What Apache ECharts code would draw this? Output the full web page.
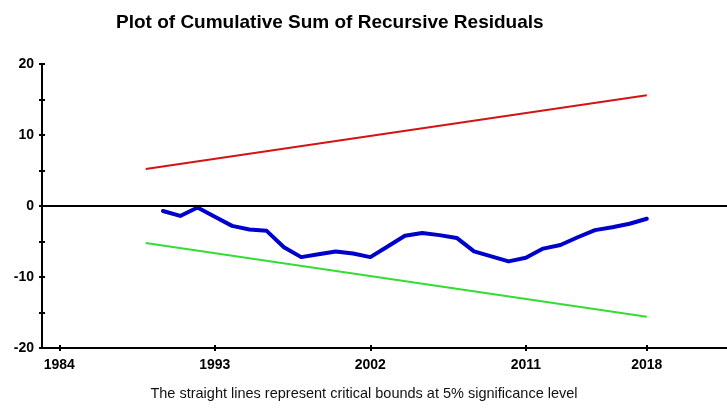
<!DOCTYPE html>
<html>
<head>
<meta charset="utf-8">
<script src="https://cdn.jsdelivr.net/npm/echarts@6/dist/echarts.min.js"></script>
<style>
  html, body { margin: 0; padding: 0; background: #ffffff; }
  #chart { width: 727px; height: 409px; }
</style>
</head>
<body>
<div id="chart"></div>
<script>
// CUSUM of recursive residuals, with 5% critical bounds
const cusumYears = [1990, 1991, 1992, 1993, 1994, 1995, 1996, 1997, 1998, 1999,
                    2000, 2001, 2002, 2003, 2004, 2005, 2006, 2007, 2008, 2009,
                    2010, 2011, 2012, 2013, 2014, 2015, 2016, 2017, 2018];
const cusumValues = [-0.7, -1.4, -0.2, -1.5, -2.8, -3.3, -3.5, -5.8, -7.2, -6.8,
                     -6.4, -6.7, -7.2, -5.7, -4.2, -3.8, -4.1, -4.5, -6.4, -7.1,
                     -7.8, -7.3, -6.0, -5.5, -4.4, -3.4, -3.0, -2.5, -1.8];

// Straight critical bounds: endpoints only
const boundYears = [1989, 2018];
const upperBound = [5.2, 15.6];
const lowerBound = [-5.2, -15.6];

const xTickLabels = [1984, 1993, 2002, 2011, 2018];

const pairs = (xs, ys) => xs.map((x, i) => [x, ys[i]]);

const FONT = 'Liberation Sans, Arial, Helvetica, sans-serif';
const chart = echarts.init(document.getElementById('chart'), null, { renderer: 'canvas' });

const baseX = {
  type: 'value', min: 1983, max: 2022.64, gridIndex: 0,
  splitLine: { show: false }
};
const baseY = {
  type: 'value', min: -20, max: 20, interval: 5, gridIndex: 0,
  splitLine: { show: false }
};

chart.setOption({
  animation: false,
  backgroundColor: '#ffffff',
  title: {
    text: 'Plot of Cumulative Sum of Recursive Residuals',
    left: 111, top: 8,
    textStyle: { fontFamily: FONT, fontSize: 19, fontWeight: 'bold', color: '#000' }
  },
  grid: { left: 42, top: 64, width: 685, height: 284 },
  xAxis: [
    Object.assign({}, baseX, {
      position: 'bottom',
      axisLine: { show: true, onZero: false, lineStyle: { color: '#000', width: 2 } },
      axisTick: { show: true, length: 3, customValues: xTickLabels, lineStyle: { color: '#000', width: 2 } },
      axisLabel: {
        customValues: xTickLabels, margin: 10,
        fontFamily: FONT, fontSize: 14, fontWeight: 'bold', color: '#000',
        formatter: v => String(v)
      }
    }),
    Object.assign({}, baseX, {
      position: 'bottom',
      axisLine: { show: false, onZero: false },
      axisTick: { show: true, inside: true, length: 3, customValues: xTickLabels, lineStyle: { color: '#000', width: 2 } },
      axisLabel: { show: false }
    })
  ],
  yAxis: [
    Object.assign({}, baseY, {
      position: 'left',
      axisLine: { show: true, onZero: false, lineStyle: { color: '#000', width: 2 } },
      axisTick: { show: true, length: 3, lineStyle: { color: '#000', width: 2 } },
      axisLabel: {
        margin: 8, fontFamily: FONT, fontSize: 14, fontWeight: 'bold', color: '#000',
        formatter: v => (v % 10 === 0 ? String(v) : '')
      }
    }),
    Object.assign({}, baseY, {
      position: 'left',
      axisLine: { show: false, onZero: false },
      axisTick: { show: true, inside: true, length: 3, lineStyle: { color: '#000', width: 2 } },
      axisLabel: { show: false }
    })
  ],
  graphic: [{
    type: 'text',
    x: 364, y: 394,
    style: {
      text: 'The straight lines represent critical bounds at 5% significance level',
      fontFamily: FONT, fontSize: 14.5, fill: '#111',
      textAlign: 'center', textVerticalAlign: 'middle'
    }
  }],
  series: [
    {
      name: 'Upper bound', type: 'line', data: pairs(boundYears, upperBound),
      showSymbol: false, lineStyle: { color: '#d41414', width: 2 }
    },
    {
      name: 'Lower bound', type: 'line', data: pairs(boundYears, lowerBound),
      showSymbol: false, lineStyle: { color: '#33dd33', width: 2 }
    },
    {
      name: 'CUSUM', type: 'line', data: pairs(cusumYears, cusumValues),
      showSymbol: false,
      lineStyle: { color: '#0000cc', width: 4, join: 'round', cap: 'round' },
      markLine: {
        silent: true, symbol: ['none', 'none'], label: { show: false },
        lineStyle: { color: '#000', width: 2, type: 'solid' },
        data: [{ yAxis: 0 }]
      },
      z: 3
    }
  ]
});
</script>
</body>
</html>
